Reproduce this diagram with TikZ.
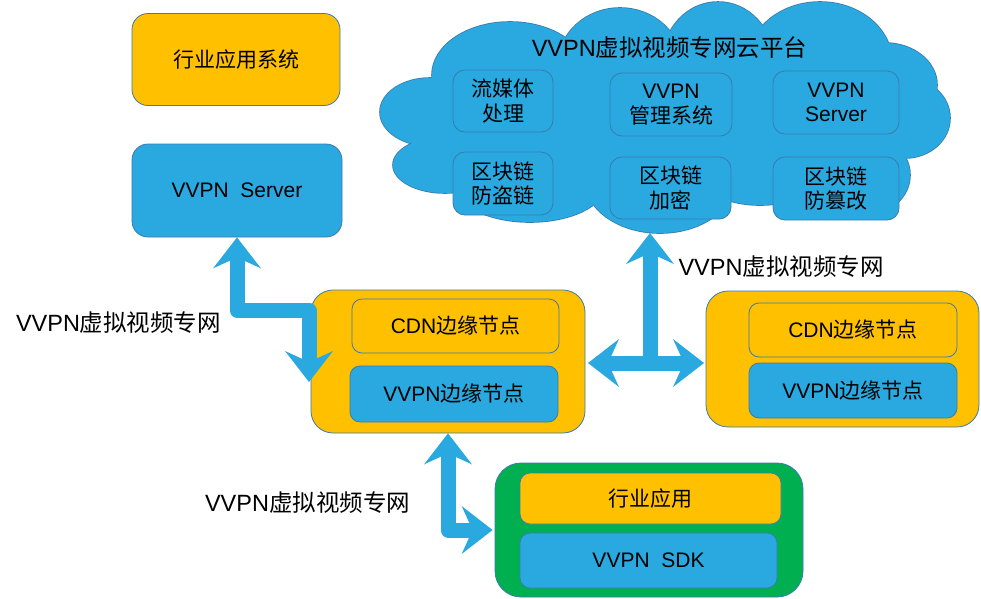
\documentclass[tikz,border=0pt]{standalone}
\usepackage{fontspec}
\setmainfont{Liberation Sans}
\newfontfamily\cjk{Noto Sans CJK SC}
\usetikzlibrary{arrows.meta}
\definecolor{cblue}{HTML}{29A9E0}
\definecolor{corange}{HTML}{FFC000}
\definecolor{cgreen}{HTML}{00B050}
\definecolor{cbd}{HTML}{3A7BAE}
\newcommand{\zh}[1]{{\cjk #1}}
\tikzset{
  box/.style={rectangle, rounded corners=#1, draw=cbd, line width=0.8pt, inner sep=0pt, align=center,
    font=\fontsize{21}{24.5}\selectfont, text=black},
  box/.default=10pt,
  bluebox/.style={box=#1, fill=cblue},
  bluebox/.default=10pt,
  orbox/.style={box=#1, fill=corange},
  orbox/.default=10pt,
  lbl/.style={inner sep=0pt, font=\fontsize{23.5}{26}\selectfont, text=black},
  bigarrow/.style={draw=cblue, line width=15pt, line join=round,
    >={Stealth[length=31pt,width=48pt,inset=11pt,line width'=0pt]}},
  puff/.style={draw=cbd, line width=1.6pt},
}
\begin{document}
\begin{tikzpicture}[x=1pt,y=-1pt]
\useasboundingbox (0,0) rectangle (981,598);
\fill[white] (0,0) rectangle (981,598);

% cloud: outline pass then fill pass
\foreach \cx/\cy/\rx/\ry in {430/112/50/34, 445/165/52/28, 510/75/78/53, 620/65/62/57, 718/60/55/58,
  820/62/72/60, 885/85/52/42, 905/118/45/40, 865/175/45/40, 760/175/60/30, 660/180/75/53, 530/185/75/37,
  665/125/240/70}{
  \path[puff] (\cx,\cy) ellipse [x radius=\rx pt, y radius=\ry pt];
}
\foreach \cx/\cy/\rx/\ry in {430/112/50/34, 445/165/52/28, 510/75/78/53, 620/65/62/57, 718/60/55/58,
  820/62/72/60, 885/85/52/42, 905/118/45/40, 865/175/45/40, 760/175/60/30, 660/180/75/53, 530/185/75/37,
  665/125/240/70}{
  \fill[cblue] (\cx,\cy) ellipse [x radius=\rx pt, y radius=\ry pt];
}
\node[lbl] (ctitle) at (669.5,48) {VVPN\zh{虚拟视频专网云平台}};
\coordinate (cloudbot) at (650,233);

% cloud inner boxes
\node[bluebox=12pt, minimum width=100pt, minimum height=62pt] (c1) at (503,101) {\zh{流媒体}\\\zh{处理}};
\node[bluebox=12pt, minimum width=122pt, minimum height=63pt] (c2) at (671,104.5) {VVPN\\\zh{管理系统}};
\node[bluebox=12pt, minimum width=126pt, minimum height=63pt] (c3) at (836,102.5) {VVPN\\Server};
\node[bluebox=12pt, minimum width=100pt, minimum height=63pt] (c4) at (503,183.5) {\zh{区块链}\\\zh{防盗链}};
\node[bluebox=12pt, minimum width=121pt, minimum height=62pt] (c5) at (670.5,188) {\zh{区块链}\\\zh{加密}};
\node[bluebox=12pt, minimum width=126pt, minimum height=63pt] (c6) at (836,188.5) {\zh{区块链}\\\zh{防篡改}};

% left top boxes
\node[orbox=16pt, minimum width=208pt, minimum height=92pt] (app) at (236,59.5) {\zh{行业应用系统}};
\node[bluebox=16pt, minimum width=210pt, minimum height=93pt] (srv) at (237,190.5) {VVPN\ \ Server};

% middle group
\node[orbox=22pt, minimum width=274pt, minimum height=143pt] (mid) at (448,361.5) {};
\node[orbox=10pt, minimum width=207pt, minimum height=54pt] (mcdn) at (455.5,326) {CDN\zh{边缘节点}};
\node[bluebox=10pt, minimum width=208pt, minimum height=56pt] (mvpn) at (454,394) {VVPN\zh{边缘节点}};

% right group
\node[orbox=22pt, minimum width=273pt, minimum height=136pt] (rgt) at (842.5,359) {};
\node[orbox=10pt, minimum width=208pt, minimum height=54pt] (rcdn) at (853,330) {CDN\zh{边缘节点}};
\node[bluebox=10pt, minimum width=208pt, minimum height=55pt] (rvpn) at (853,390.5) {VVPN\zh{边缘节点}};

% bottom green group
\node[box=26pt, fill=cgreen, minimum width=308pt, minimum height=134pt] (grn) at (649,530) {};
\node[orbox=10pt, minimum width=261pt, minimum height=51pt] (gapp) at (650.5,498.5) {\zh{行业应用}};
\node[bluebox=10pt, minimum width=257pt, minimum height=55pt] (gsdk) at (648.5,560.5) {VVPN\ \ SDK};

% labels
\node[lbl] (lbl1) at (118.5,323) {VVPN\zh{虚拟视频专网}};
\node[lbl] (lbl2) at (781,267) {VVPN\zh{虚拟视频专网}};
\node[lbl] (lbl3) at (307.5,503) {VVPN\zh{虚拟视频专网}};

% arrows
\coordinate (l1) at (309,382);
\draw[bigarrow,<->] (srv.south) -- ++(0,73) -| (l1);
\coordinate (hl) at (588,363);
\coordinate (hr) at (704,363);
\coordinate (tj) at (650,363);
\draw[bigarrow,<->] (hl) -- (hr);
\draw[bigarrow,->] (tj) -- (cloudbot);
\draw[bigarrow,<->] (mid.south) |- ([xshift=-2pt]grn.west);
\end{tikzpicture}
\end{document}
